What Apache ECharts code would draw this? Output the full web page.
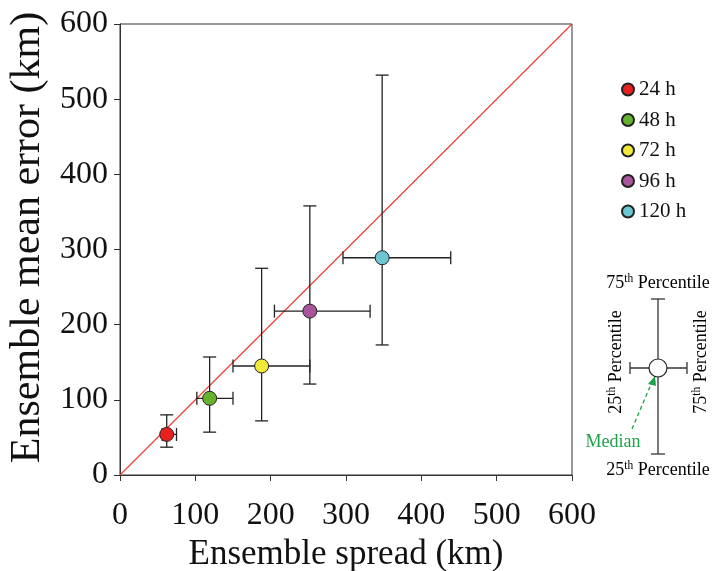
<!DOCTYPE html>
<html><head><meta charset="utf-8">
<script src="https://cdn.jsdelivr.net/npm/echarts@6/dist/echarts.min.js"></script>
<style>html,body{margin:0;padding:0;background:#fff}#c{width:713px;height:571px}</style>
</head><body><div id="c"></div>
<script>
const leadTimes = ['24 h','48 h','72 h','96 h','120 h'];
const colors = ['#e8211f','#67b22c','#f1e93a','#a9559b','#6cc6d2'];
const spreadMedian = [62, 119, 188, 252, 348];
const spreadP25 = [56, 102, 150, 205, 296];
const spreadP75 = [75, 150, 252, 332, 439];
const errorMedian = [54, 102, 145, 218, 289];
const errorP25 = [37, 57, 72, 121, 173];
const errorP75 = [80, 157, 275, 358, 532];
const axisTicks = [0, 100, 200, 300, 400, 500, 600];

const FONT = 'Liberation Serif';
const chart = echarts.init(document.getElementById('c'));

const errData = leadTimes.map((n,i)=>[spreadMedian[i], errorMedian[i], spreadP25[i], spreadP75[i], errorP25[i], errorP75[i]]);

const series = [];
series.push({
  type:'line', data:[[axisTicks[0],axisTicks[0]],[axisTicks[6],axisTicks[6]]],
  symbol:'none', silent:true, color:'#f2382c',
  itemStyle:{color:'#f2382c'},
  lineStyle:{color:'#f2382c', width:1.1}, z:1
});
series.push({
  type:'custom', silent:true, z:2,
  renderItem:function(params, api){
    const x = api.value(0), y = api.value(1);
    const c = api.coord([x,y]);
    const l = api.coord([api.value(2), y]);
    const r = api.coord([api.value(3), y]);
    const b = api.coord([x, api.value(4)]);
    const t = api.coord([x, api.value(5)]);
    const st = {stroke:'#222', lineWidth:1.3, fill:null};
    const cap = 6.5;
    return {type:'group', children:[
      {type:'line', shape:{x1:l[0],y1:c[1],x2:r[0],y2:c[1]}, style:st},
      {type:'line', shape:{x1:c[0],y1:b[1],x2:c[0],y2:t[1]}, style:st},
      {type:'line', shape:{x1:l[0],y1:c[1]-cap,x2:l[0],y2:c[1]+cap}, style:st},
      {type:'line', shape:{x1:r[0],y1:c[1]-cap,x2:r[0],y2:c[1]+cap}, style:st},
      {type:'line', shape:{x1:c[0]-cap,y1:t[1],x2:c[0]+cap,y2:t[1]}, style:st},
      {type:'line', shape:{x1:c[0]-cap,y1:b[1],x2:c[0]+cap,y2:b[1]}, style:st}
    ]};
  },
  data: errData
});
leadTimes.forEach((n,i)=>{
  series.push({
    name:n, type:'scatter', z:3, symbol:'circle', symbolSize:14,
    itemStyle:{color:colors[i], borderColor:'#222', borderWidth:1, opacity:1},
    data:[[spreadMedian[i], errorMedian[i]]]
  });
});

const sup = {fontFamily:FONT, fontSize:11.5, color:'#111', verticalAlign:'top', padding:[0,0,8,0]};
const base = {fontFamily:FONT, fontSize:18, color:'#111'};
const keyX = 658, keyY = 368;
const kst = {stroke:'#333', lineWidth:1.3};
const graphics = [
  {type:'line', shape:{x1:keyX,y1:299,x2:keyX,y2:454}, style:kst},
  {type:'line', shape:{x1:keyX-7,y1:299,x2:keyX+7,y2:299}, style:kst},
  {type:'line', shape:{x1:keyX-7,y1:454,x2:keyX+7,y2:454}, style:kst},
  {type:'line', shape:{x1:630,y1:keyY,x2:687,y2:keyY}, style:kst},
  {type:'line', shape:{x1:630,y1:keyY-6,x2:630,y2:keyY+6}, style:kst},
  {type:'line', shape:{x1:687,y1:keyY-6,x2:687,y2:keyY+6}, style:kst},
  {type:'circle', shape:{cx:keyX,cy:keyY,r:9}, style:{fill:'#fff', stroke:'#222', lineWidth:1.2}, z:10},
  {type:'text', x:keyX, y:283, style:{text:'{a|75}{s|th}{a| Percentile}', align:'center', verticalAlign:'middle', rich:{a:base, s:sup}}},
  {type:'text', x:keyX, y:470, style:{text:'{a|25}{s|th}{a| Percentile}', align:'center', verticalAlign:'middle', rich:{a:base, s:sup}}},
  {type:'text', x:616, y:362, rotation:Math.PI/2, style:{text:'{a|25}{s|th}{a| Percentile}', align:'center', verticalAlign:'middle', rich:{a:base, s:sup}}},
  {type:'text', x:701, y:362, rotation:Math.PI/2, style:{text:'{a|75}{s|th}{a| Percentile}', align:'center', verticalAlign:'middle', rich:{a:base, s:sup}}},
  {type:'text', x:613, y:442, style:{text:'Median', align:'center', verticalAlign:'middle', fontFamily:FONT, fontSize:18, fill:'#1fa24a'}},
  {type:'line', shape:{x1:632,y1:429,x2:652,y2:382}, style:{stroke:'#1fa24a', lineWidth:1.3, lineDash:[4,3]}},
  {type:'polygon', shape:{points:[[655,376],[648,384],[656,386]]}, style:{fill:'#1fa24a'}}
];

chart.setOption({
  animation:false,
  backgroundColor:'#fff',
  grid:{left:120, right:141, top:24, bottom:96, show:true, borderColor:'#333', borderWidth:1, containLabel:false, outerBoundsMode:'none'},
  legend:{
    orient:'vertical', left:616, top:74, itemGap:9.5, itemWidth:12, itemHeight:12,
    data:leadTimes, icon:'circle',
    textStyle:{fontFamily:FONT, fontSize:21, color:'#111'}
  },
  xAxis:{
    type:'value', min:axisTicks[0], max:axisTicks[6], interval:100,
    splitLine:{show:false},
    axisLine:{lineStyle:{color:'#333', width:1}},
    axisTick:{show:true, length:6, lineStyle:{color:'#333'}},
    axisLabel:{fontFamily:FONT, fontSize:32, color:'#111', margin:25},
    name:'Ensemble spread (km)', nameLocation:'middle', nameGap:58,
    nameTextStyle:{fontFamily:FONT, fontSize:35, color:'#111'}
  },
  yAxis:{
    type:'value', min:axisTicks[0], max:axisTicks[6], interval:100,
    splitLine:{show:false},
    axisLine:{show:true, lineStyle:{color:'#333', width:1}},
    axisTick:{show:true, length:6, lineStyle:{color:'#333'}},
    axisLabel:{fontFamily:FONT, fontSize:32, color:'#111', margin:12},
    name:'Ensemble mean error (km)', nameLocation:'middle', nameGap:69,
    nameTextStyle:{fontFamily:FONT, fontSize:42, color:'#111', padding:[0,0,0,24]}
  },
  series:series,
  graphic:graphics
});
</script></body></html>
